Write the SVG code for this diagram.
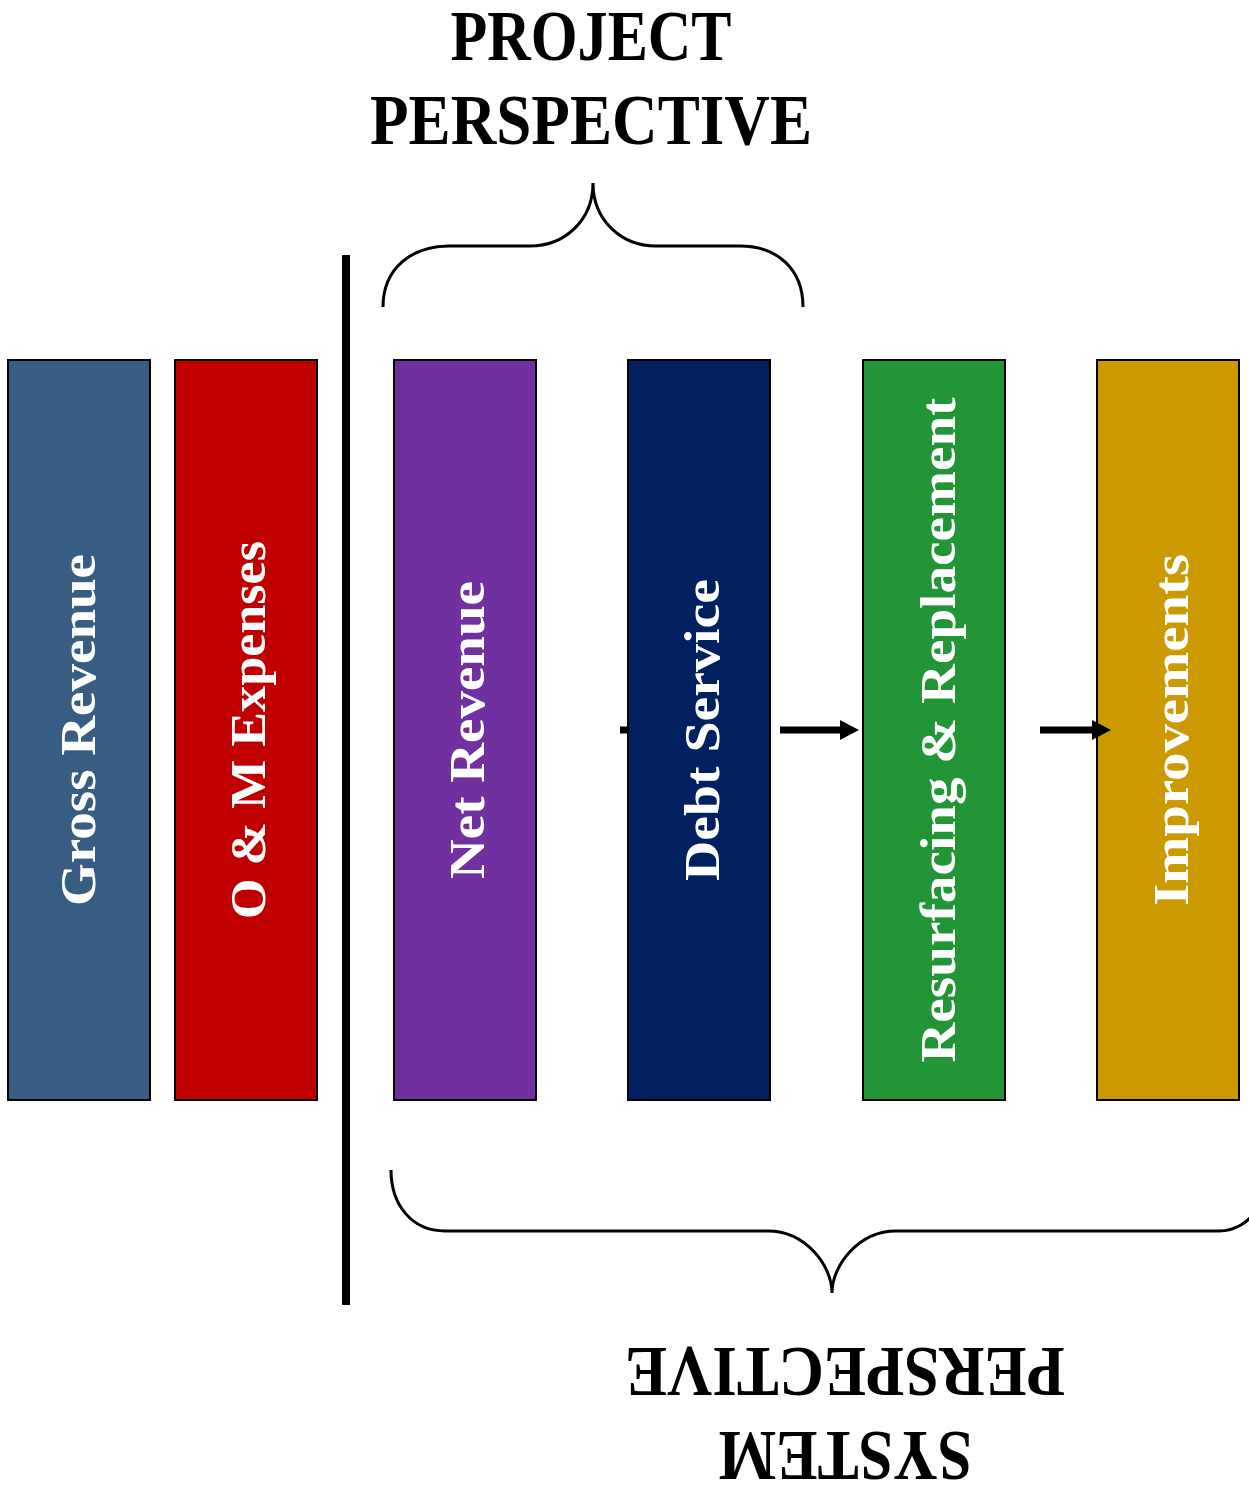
<svg xmlns="http://www.w3.org/2000/svg" width="1249" height="1495" viewBox="0 0 1249 1495">
  <style>
    .box { stroke: #000; stroke-width: 2; }
    .label { font-family: "Liberation Serif", "DejaVu Serif", serif; font-weight: bold; font-size: 50px; fill: #fff; }
    .title { font-family: "Liberation Serif", "DejaVu Serif", serif; font-weight: bold; font-size: 71px; fill: #000; }
    .brace { fill: none; stroke: #000; stroke-width: 3; }
  </style>
  <defs>
    <marker id="head" viewBox="0 0 19 20" refX="2" refY="10" markerWidth="19" markerHeight="20" markerUnits="userSpaceOnUse" orient="auto">
      <path d="M0,0 L19,10 L0,20 Z" fill="#000"/>
    </marker>
  </defs>

  <rect width="1249" height="1495" fill="#fff"/>

  <!-- headings -->
  <g id="project-perspective">
    <text class="title" x="591" y="60" text-anchor="middle" textLength="281" lengthAdjust="spacingAndGlyphs">PROJECT</text>
    <text class="title" x="591" y="144" text-anchor="middle" textLength="442" lengthAdjust="spacingAndGlyphs">PERSPECTIVE</text>
  </g>
  <g id="system-perspective">
    <text class="title" transform="translate(845,1348) rotate(180)" text-anchor="middle" textLength="440" lengthAdjust="spacingAndGlyphs">PERSPECTIVE</text>
    <text class="title" transform="translate(845,1432) rotate(180)" text-anchor="middle" textLength="254" lengthAdjust="spacingAndGlyphs">SYSTEM</text>
  </g>

  <!-- braces and divider -->
  <g id="braces">
    <path class="brace" d="M383,307 C383,268 412,246 449,246 L530,246 C565,246 593,220 593,183 C593,220 621,246 656,246 L740,246 C776,246 803,268 803,307"/>
    <path class="brace" d="M391,1170 C391,1205 412,1231 445,1231 L768,1231 C805,1231 832,1265 832,1293 C832,1265 859,1231 896,1231 L1219,1231 C1235,1231 1249,1222 1256,1210"/>
  </g>
  <rect id="divider" x="342" y="255" width="8" height="1050" fill="#000"/>

  <!-- connectors -->
  <g id="connectors" stroke="#000" stroke-width="7" fill="none">
    <line x1="620" y1="730" x2="632" y2="730"/>
    <line x1="780" y1="730" x2="842" y2="730" marker-end="url(#head)"/>
    <line x1="1040" y1="730" x2="1094" y2="730"/>
  </g>

  <!-- stages -->
  <g id="gross-revenue">
    <rect class="box" x="8" y="360" width="142" height="740" fill="#385D82"/>
    <text class="label" transform="translate(95,730) rotate(-90)" text-anchor="middle" textLength="352" lengthAdjust="spacingAndGlyphs">Gross Revenue</text>
  </g>
  <g id="om-expenses">
    <rect class="box" x="175" y="360" width="142" height="740" fill="#C00000"/>
    <text class="label" transform="translate(265,730) rotate(-90)" text-anchor="middle" textLength="378" lengthAdjust="spacingAndGlyphs">O &amp; M Expenses</text>
  </g>
  <g id="net-revenue">
    <rect class="box" x="394" y="360" width="142" height="740" fill="#7030A0"/>
    <text class="label" transform="translate(484,730) rotate(-90)" text-anchor="middle" textLength="298" lengthAdjust="spacingAndGlyphs">Net Revenue</text>
  </g>
  <g id="debt-service">
    <rect class="box" x="628" y="360" width="142" height="740" fill="#002060"/>
    <text class="label" transform="translate(719,730) rotate(-90)" text-anchor="middle" textLength="302" lengthAdjust="spacingAndGlyphs">Debt Service</text>
  </g>
  <g id="resurfacing-replacement">
    <rect class="box" x="863" y="360" width="142" height="740" fill="#229636"/>
    <text class="label" transform="translate(955,730) rotate(-90)" text-anchor="middle" textLength="665" lengthAdjust="spacingAndGlyphs">Resurfacing &amp; Replacement</text>
  </g>
  <g id="improvements">
    <rect class="box" x="1097" y="360" width="142" height="740" fill="#CC9900"/>
    <text class="label" transform="translate(1188,730) rotate(-90)" text-anchor="middle" textLength="352" lengthAdjust="spacingAndGlyphs">Improvements</text>
  </g>
  <!-- arrowhead into the last stage sits over its border -->
  <path d="M1092,720 L1111,730 L1092,740 Z" fill="#000"/>
</svg>
